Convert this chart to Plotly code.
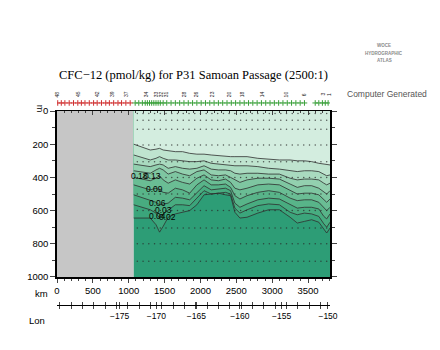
import plotly.graph_objects as go

# ---------------- data ----------------
KM = [1070, 1300, 1380, 1430, 1480, 1550, 1650, 1750, 1850, 1950, 2050, 2150, 2250, 2350,
      2420, 2480, 2550, 2650, 2800, 2950, 3100, 3250, 3350, 3450, 3550, 3650, 3720, 3760, 3806]

L1 = [200, 235, 230, 225, 235, 240, 245, 245, 255, 260, 260, 265, 270, 275, 275, 275, 275, 275, 285, 290, 295, 295, 300, 300, 305, 315, 320, 325, 325]
L2 = [265, 295, 285, 275, 285, 295, 295, 300, 305, 305, 300, 315, 320, 325, 325, 330, 330, 330, 335, 345, 350, 360, 365, 360, 360, 365, 380, 390, 385]
L3 = [320, 335, 325, 320, 325, 345, 335, 345, 350, 345, 330, 350, 355, 355, 360, 375, 380, 375, 375, 380, 380, 405, 415, 410, 410, 415, 435, 445, 435]
L4 = [360, 375, 355, 345, 355, 380, 365, 380, 390, 365, 355, 385, 390, 385, 400, 415, 430, 415, 405, 405, 410, 440, 460, 450, 450, 465, 490, 500, 480]
L5 = [400, 420, 405, 390, 415, 435, 415, 430, 440, 405, 385, 415, 420, 410, 430, 465, 475, 465, 445, 440, 445, 480, 500, 495, 495, 505, 535, 550, 530]
L6 = [445, 475, 465, 475, 490, 495, 465, 475, 495, 445, 415, 445, 445, 440, 460, 510, 530, 510, 490, 480, 490, 525, 540, 535, 535, 550, 585, 600, 580]
L7 = [505, 535, 550, 565, 560, 555, 520, 525, 535, 490, 450, 475, 470, 465, 480, 555, 580, 560, 535, 525, 530, 565, 585, 580, 580, 590, 635, 650, 620]
L8 = [565, 595, 615, 645, 620, 595, 565, 565, 570, 525, 480, 500, 495, 490, 500, 585, 615, 595, 570, 560, 565, 610, 625, 615, 620, 635, 680, 700, 670]
L9 = [645, 645, 685, 730, 695, 640, 620, 610, 600, 565, 505, 500, 495, 505, 510, 610, 645, 640, 615, 595, 595, 640, 675, 665, 655, 670, 715, 735, 705]
CONTOURS = [L1, L2, L3, L4, L5, L6, L7, L8, L9]

BAND_COLORS = ["#d3eddf", "#bfe4cf", "#a9dabf", "#93d0af", "#7ec6a1", "#6abd94",
               "#58b489", "#48ac80", "#3ba57b", "#2d9d76"]

GAP_KM = [0, 1070]
DEPTH_RANGE = [0, 1000]
X_RANGE = [0, 3806]

LABEL_TEXT = ["0.18", "0.13", "0.09", "0.06", "0.03", "0.04", "0.02"]
LABEL_KM = [1152, 1334, 1362, 1404, 1480, 1400, 1545]
LABEL_DEPTH = [392, 392, 470, 554, 596, 630, 636]

DOT_KM = [1120, 1200, 1280, 1360, 1440, 1520, 1600, 1680, 1760, 1840, 1920, 2000, 2080, 2160,
          2240, 2320, 2400, 2480, 2560, 2640, 2720, 2800, 2880, 2960, 3040, 3120, 3200, 3280,
          3360, 3440, 3520, 3600, 3680, 3760]
DOT_DEPTHS = [15, 55, 110, 205, 305, 400, 500, 600, 705, 800, 905]

STATION_KM = [10, 60, 110, 170, 230, 290, 340, 390, 450, 510, 560, 620, 680, 730, 790, 850, 900,
              960, 1020, 1090, 1140, 1190, 1230, 1260, 1290, 1320, 1350, 1380, 1410, 1440, 1480,
              1530, 1590, 1650, 1710, 1770, 1830, 1890, 1950, 2010, 2070, 2130, 2190, 2250, 2310,
              2370, 2430, 2490, 2550, 2610, 2670, 2730, 2790, 2850, 2910, 2970, 3030, 3090, 3150,
              3210, 3270, 3330, 3390, 3450, 3600, 3650, 3700, 3740, 3780]
STATION_NUM_KM = [0, 300, 565, 775, 970, 1250, 1390, 1460, 1530, 1780, 1950, 2170, 2410, 2590,
                  2870, 3205, 3455, 3710, 3800]
STATION_NUM = ["48", "45", "42", "39", "37", "34", "33", "32", "31", "28", "26", "23", "20",
               "18", "14", "10", "6", "3", "1"]

LON_KM = [873, 1385, 1944, 2549, 3131, 3778]
LON_LABELS = ["\u2212175", "\u2212170", "\u2212165", "\u2212160", "\u2212155", "\u2212150"]

TITLE = "CFC\u221212 (pmol/kg) for P31 Samoan Passage (2500:1)"

# ---------------- figure ----------------
SANS = "Liberation Sans"
fig = go.Figure()

# no-data (gray) region
fig.add_trace(go.Scatter(
    x=[GAP_KM[0], GAP_KM[1], GAP_KM[1], GAP_KM[0]],
    y=[DEPTH_RANGE[0], DEPTH_RANGE[0], DEPTH_RANGE[1], DEPTH_RANGE[1]],
    fill="toself", fillcolor="#c6c6c6", line=dict(width=0), mode="lines",
    hoverinfo="skip", showlegend=False))

# darkest band as the base
fig.add_trace(go.Scatter(
    x=[KM[0], KM[-1], KM[-1], KM[0]],
    y=[DEPTH_RANGE[0], DEPTH_RANGE[0], DEPTH_RANGE[1], DEPTH_RANGE[1]],
    fill="toself", fillcolor=BAND_COLORS[-1], line=dict(width=0), mode="lines",
    hoverinfo="skip", showlegend=False))

# bands: each contour filled up to the surface, deepest first
for i in range(len(CONTOURS) - 1, -1, -1):
    line = CONTOURS[i]
    fig.add_trace(go.Scatter(
        x=KM + [KM[-1], KM[0]], y=line + [DEPTH_RANGE[0], DEPTH_RANGE[0]],
        fill="toself", fillcolor=BAND_COLORS[i], line=dict(width=0), mode="lines",
        hoverinfo="skip", showlegend=False))

# contour lines
for line in CONTOURS:
    fig.add_trace(go.Scatter(
        x=KM, y=line, mode="lines", line=dict(color="#2f2f2f", width=0.8),
        hoverinfo="skip", showlegend=False))

# sample dots
dx, dy = [], []
for d in DOT_DEPTHS:
    for k in DOT_KM:
        dx.append(k)
        dy.append(d)
fig.add_trace(go.Scatter(
    x=dx, y=dy, mode="markers", marker=dict(size=1.5, color="#2a2a2a", opacity=0.75),
    hoverinfo="skip", showlegend=False))

# station markers above the plot
st_colors = ["#d03030" if k < GAP_KM[1] else "#3aa03a" for k in STATION_KM]
fig.add_trace(go.Scatter(
    x=STATION_KM, y=[0.28] * len(STATION_KM), yaxis="y3", mode="markers",
    marker=dict(symbol="cross-thin", size=4, line=dict(width=1, color=st_colors)),
    hoverinfo="skip", showlegend=False))

# helper traces so the extra axes are drawn
for ax in ["x2", "x3", "x4"]:
    fig.add_trace(go.Scatter(x=[X_RANGE[0]], y=[None], xaxis=ax, yaxis="y",
                             mode="markers", hoverinfo="skip", showlegend=False))

annotations = []
for t, k, d in zip(LABEL_TEXT, LABEL_KM, LABEL_DEPTH):
    annotations.append(dict(x=k, y=d, xref="x", yref="y", text=t, showarrow=False,
                            xanchor="center", yanchor="middle",
                            font=dict(family=SANS, size=8.5, color="black")))
for k, t in zip(STATION_NUM_KM, STATION_NUM):
    annotations.append(dict(x=k, y=0.785, xref="x", yref="paper", text=t, showarrow=False,
                            xanchor="center", yanchor="middle",
                            textangle=-90, font=dict(family=SANS, size=5, color="#222")))


def paper_text(x, y, text, size, color="black", family=SANS, xanchor="center", angle=0):
    return dict(x=x, y=y, xref="paper", yref="paper", text=text, showarrow=False,
                xanchor=xanchor, yanchor="middle", textangle=angle,
                font=dict(family=family, size=size, color=color))


annotations += [
    paper_text(0, 0.85, TITLE, 12.5, family="Liberation Serif", xanchor="left"),
    paper_text(1.198, 0.947, "<b>WOCE</b>", 4.5, "#8a8a8a"),
    paper_text(1.198, 0.922, "<b>HYDROGRAPHIC</b>", 4.5, "#8a8a8a"),
    paper_text(1.198, 0.897, "<b>ATLAS</b>", 4.5, "#8a8a8a"),
    paper_text(1.209, 0.787, "Computer Generated", 8.5, "#555555"),
    paper_text(-0.055, 0.123, "km", 9.5),
    paper_text(-0.072, 0.033, "Lon", 9.5),
    paper_text(-0.059, 0.738, "m", 9, angle=90),
]

tickfont = dict(family=SANS, size=9.5, color="black")
fig.update_layout(
    width=440, height=350,
    margin=dict(l=57, r=110, t=30, b=20),
    paper_bgcolor="white", plot_bgcolor="white",
    showlegend=False,
    xaxis=dict(range=X_RANGE, dtick=500, tick0=0, ticks="outside", ticklen=4,
               minor=dict(dtick=100, ticklen=2, ticks="outside"),
               showline=True, linecolor="black", linewidth=1.5, showgrid=False,
               zeroline=False, tickfont=tickfont, anchor="y"),
    xaxis2=dict(range=X_RANGE, overlaying="x", anchor="free", position=0.085,
                side="bottom", tickmode="array", tickvals=LON_KM, ticktext=LON_LABELS,
                ticks="outside", ticklen=3,
                minor=dict(dtick=158, tick0=40, ticklen=3, ticks="outside"),
                showline=True, linecolor="black", linewidth=1, showgrid=False,
                zeroline=False, tickfont=dict(family=SANS, size=8.5, color="black")),
    xaxis4=dict(range=X_RANGE, overlaying="x", anchor="free", position=0.085,
                side="bottom", tickmode="array", tickvals=LON_KM, ticks="inside",
                ticklen=3, minor=dict(dtick=158, tick0=40, ticklen=3, ticks="inside"),
                showticklabels=False, showline=False, showgrid=False, zeroline=False),
    xaxis3=dict(range=X_RANGE, overlaying="x", anchor="y", side="top", dtick=500, tick0=0,
                ticks="inside", ticklen=4, minor=dict(dtick=100, ticklen=2, ticks="inside"),
                showticklabels=False, showline=True, linecolor="black", linewidth=1.2,
                showgrid=False, zeroline=False),
    yaxis=dict(range=[DEPTH_RANGE[1], DEPTH_RANGE[0]], domain=[0.1767, 0.73], dtick=200,
               tick0=0, ticks="outside", ticklen=5,
               minor=dict(dtick=100, ticklen=3, ticks="outside"),
               mirror="ticks", showline=True, linecolor="black", linewidth=1.5,
               showgrid=False, zeroline=False, tickfont=tickfont),
    yaxis3=dict(domain=[0.74, 0.8], range=[0, 1], anchor="x", visible=False),
    annotations=annotations,
)

fig.write_html("out.html")
